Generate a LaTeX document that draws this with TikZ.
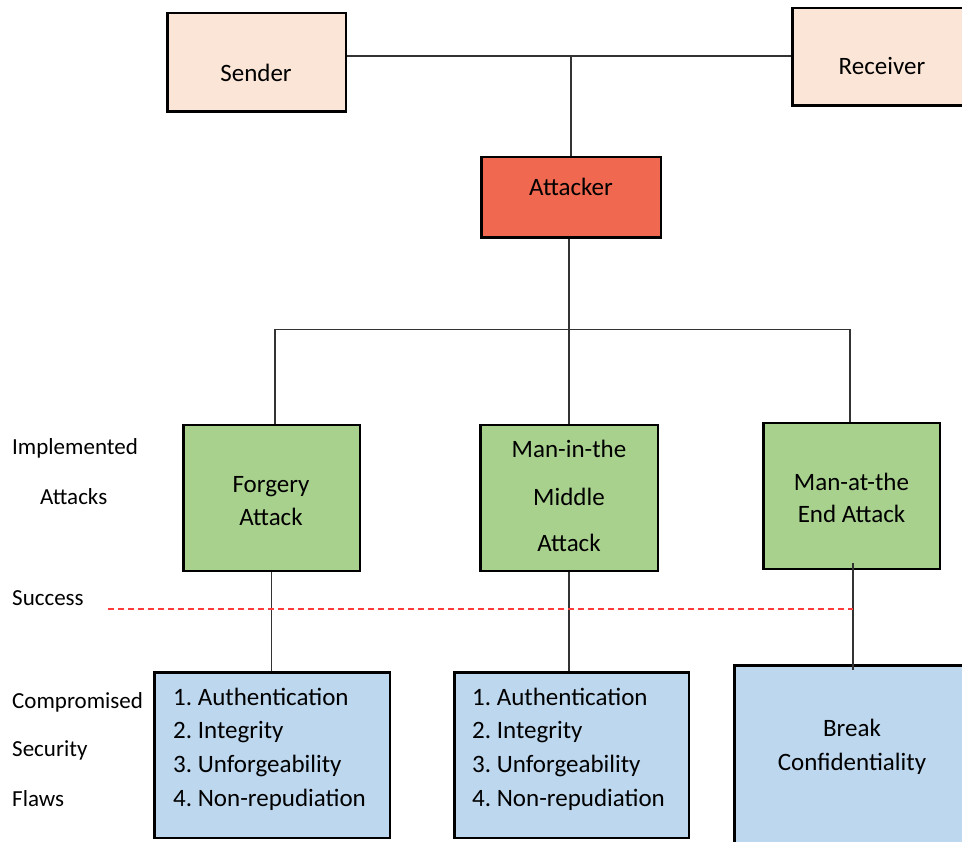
\documentclass[tikz,border=0pt]{standalone}
\usepackage{fontspec}
\setmainfont{Carlito}
\frenchspacing
\definecolor{peach}{HTML}{FBE5D6}
\definecolor{attackred}{HTML}{F0684F}
\definecolor{attackgreen}{HTML}{A9D18E}
\definecolor{flawblue}{HTML}{BDD7EE}
\definecolor{successred}{HTML}{FF3B3B}
\begin{document}
\begin{tikzpicture}[x=1pt,y=-1pt,
  box/.style={draw=black, line width=2.5pt, rectangle, inner sep=0pt},
  wire/.style={draw=black!80, line width=1.3pt},
  txt/.style={font=\fontsize{25}{30}\selectfont, anchor=base, inner sep=0pt},
  listtxt/.style={font=\fontsize{25}{30}\selectfont, anchor=base west, inner sep=0pt},
  side/.style={font=\fontsize{23}{28}\selectfont, anchor=base west, inner sep=0pt},
]
\useasboundingbox (0,0) rectangle (962,842);

% boxes
\node[box, fill=peach, minimum width=178.5pt, minimum height=98.5pt] (sender) at (256.5,62.5) {};
\node[box, fill=peach, minimum width=178.5pt, minimum height=97.5pt] (receiver) at (881.5,57) {};
\node[box, fill=attackred, minimum width=179.5pt, minimum height=80.5pt] (attacker) at (571,197.5) {};
\node[box, fill=attackgreen, minimum width=176.5pt, minimum height=145.5pt] (forgery) at (271.5,498) {};
\node[box, fill=attackgreen, minimum width=177.5pt, minimum height=145.5pt] (mitm) at (569,498) {};
\node[box, fill=attackgreen, minimum width=176.5pt, minimum height=145.5pt] (mate) at (851.5,496) {};
\node[box, fill=flawblue, minimum width=235.5pt, minimum height=165.5pt] (flawsA) at (272,755) {};
\node[box, fill=flawblue, minimum width=234.5pt, minimum height=165.5pt] (flawsB) at (571.5,755) {};
\node[box, fill=flawblue, minimum width=235.5pt, minimum height=181.5pt] (brk) at (852,756) {};

% connectors
\coordinate (bus) at (571,56);
\coordinate (split) at (569,329.5);
\coordinate (barL) at (275,329.5);
\coordinate (barR) at (850,329.5);
\coordinate (dashL) at (108,609);
\coordinate (mateOut) at (853,563);
\coordinate (brkIn) at (853,670);

\draw[wire] (sender.east |- bus) -- (receiver.west |- bus);
\draw[wire] (bus) -- (attacker.north);
\draw[wire] (split |- attacker.south) -- (split);
\draw[wire] (barL) -- (barR);
\draw[wire] (barL) -- (barL |- forgery.north);
\draw[wire] (split) -- (split |- mitm.north);
\draw[wire] (barR) -- (barR |- mate.north);
\draw[wire] (forgery.south) -- (forgery.south |- flawsA.north);
\draw[wire] (mitm.south) -- (mitm.south |- flawsB.north);
\draw[wire] (mateOut) -- (brkIn);

% success threshold
\draw[successred, line width=1.3pt, dash pattern=on 6pt off 4pt] (dashL) -- (mateOut |- dashL);

% box texts
\node[txt] (tsender) at (256,82) {Sender};
\node[txt] (treceiver) at (882,75) {Receiver};
\node[txt] (tattacker) at (571,196) {Attacker};
\node[txt] (tforg1) at (271,492.5) {Forgery};
\node[txt] (tforg2) at (271,525) {Attack};
\node[txt] (tmitm1) at (569,457.5) {Man-in-the};
\node[txt] (tmitm2) at (569,505) {Middle};
\node[txt] (tmitm3) at (569,551.5) {Attack};
\node[txt] (tmate1) at (851.5,490) {Man-at-the};
\node[txt] (tmate2) at (851.5,522.5) {End Attack};
\node[txt] (tbrk1) at (852,736.5) {Break};
\node[txt] (tbrk2) at (852,770) {Confidentiality};

% lists of compromised properties
\foreach \t [count=\i] in {1. Authentication, 2. Integrity, 3. Unforgeability, 4. Non-repudiation} {
  \node[listtxt] (la\i) at (173,{705+33.7*(\i-1)}) {\t};
  \node[listtxt] (lb\i) at (472,{705+33.7*(\i-1)}) {\t};
}

% row captions
\node[side] (cimpl) at (12,455) {Implemented};
\node[side] (catt) at (40,504) {Attacks};
\node[side] (csucc) at (12,605) {Success};
\node[side] (ccomp) at (12,708) {Compromised};
\node[side] (csec) at (12,756.5) {Security};
\node[side] (cflaw) at (12,806.5) {Flaws};
\end{tikzpicture}
\end{document}
